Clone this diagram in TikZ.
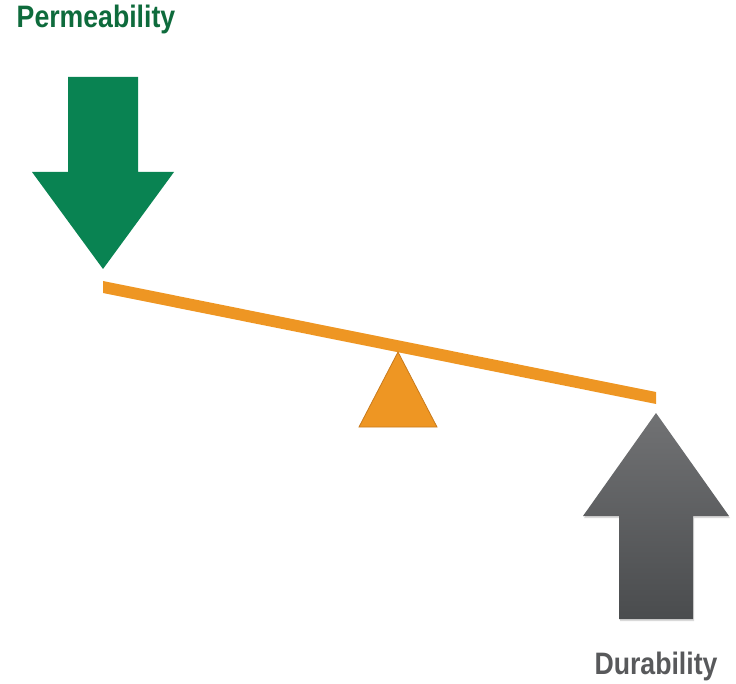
\documentclass[tikz,border=0pt]{standalone}
\usepackage{fontspec}
\usepackage{tikz}
\usetikzlibrary{shadows}
\newfontfamily\labelfont[FakeStretch=0.86]{Liberation Sans}

\definecolor{permgreen}{RGB}{9,131,82}
\definecolor{permtext}{RGB}{14,107,60}
\definecolor{beamorange}{RGB}{238,150,35}
\definecolor{beamedge}{RGB}{200,122,28}
\definecolor{durtop}{RGB}{113,114,116}
\definecolor{durbottom}{RGB}{74,76,78}
\definecolor{durtext}{RGB}{88,89,91}

\tikzset{
  lbl/.style={font=\labelfont\bfseries\fontsize{31}{33}\selectfont, inner sep=0pt},
}

\begin{document}
\begin{tikzpicture}[x=1pt, y=-1pt]
\useasboundingbox (0, 0) rectangle (736, 684);

% load arrow (down)
\fill[permgreen] (68, 77) -- (138, 77) -- (138, 172) -- (174, 172) -- (103, 269)
  -- (32, 172) -- (68, 172) -- cycle;

% beam
\fill[beamorange] (103, 281) -- (656, 392) -- (656, 404) -- (103, 293) -- cycle;

% fulcrum
\draw[beamedge, fill=beamorange, line width=0.8pt] (398, 352) -- (437, 427) -- (359, 427) -- cycle;

% support arrow (up)
\draw[draw=none, top color=durtop, bottom color=durbottom,
  drop shadow={opacity=0.3, shadow xshift=1pt, shadow yshift=-2pt}]
  (656, 413) -- (729, 516) -- (693, 516) -- (693, 619) -- (619, 619)
  -- (619, 516) -- (583, 516) -- cycle;

\node[lbl, text=permtext, anchor=base] (perm) at (96, 28) {Permeability};
\node[lbl, text=durtext, anchor=base] (dur) at (656, 674) {Durability};

\end{tikzpicture}
\end{document}
